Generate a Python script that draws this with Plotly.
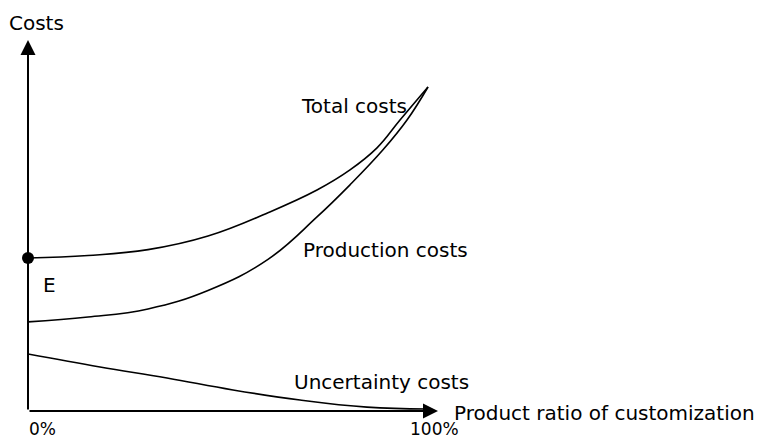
import plotly.graph_objects as go

# Data (x: product ratio of customization in %, y: cost units)
total_x = [0, 15, 30, 45, 60, 72.25, 80.5, 87.25, 93, 100]
total_y = [47.2, 48.0, 49.8, 54.0, 61.2, 68.2, 74.4, 81.2, 89.8, 100]

prod_x = [0, 15, 30, 45, 60, 72.25, 80.5, 88.75, 94.75, 100]
prod_y = [27.5, 29.0, 31.5, 37.2, 46.8, 59.9, 69.8, 80.6, 89.8, 100]

unc_x = [0, 18, 34.75, 51.25, 68, 84.75, 99.75]
unc_y = [17.6, 13.6, 10.2, 6.5, 3.4, 1.2, 0.6]

point_e = (0, 47.2)

labels = {
    "Costs": (2, 119.9),
    "Total costs": (81.5, 94.1),
    "Production costs": (89.25, 49.7),
    "Uncertainty costs": (88.25, 9.0),
    "Product ratio of customization": (144, -0.6),
    "E": (5.25, 39.0),
}
tick_labels = {"0%": (3.5, -5.6), "100%": (101.5, -5.6)}

X_MAX = 102.5
Y_MAX = 114.5

fig = go.Figure()
line_style = dict(color="black", width=1.6, shape="spline", smoothing=1.2)
fig.add_trace(go.Scatter(x=total_x, y=total_y, mode="lines", line=line_style, cliponaxis=False))
fig.add_trace(go.Scatter(x=prod_x, y=prod_y, mode="lines", line=line_style, cliponaxis=False))
fig.add_trace(go.Scatter(x=unc_x, y=unc_y, mode="lines", line=line_style, cliponaxis=False))
fig.add_trace(go.Scatter(x=[point_e[0]], y=[point_e[1]], mode="markers",
                         marker=dict(color="black", size=12), cliponaxis=False))

font = dict(family="DejaVu Sans", size=20, color="black")
ann = []
# axis arrows
ann.append(dict(x=0, y=Y_MAX, ax=0, ay=0, xref="x", yref="y", axref="x", ayref="y",
                text="", showarrow=True, arrowhead=2, arrowsize=1.5, arrowwidth=2,
                arrowcolor="black", standoff=0))
ann.append(dict(x=X_MAX, y=0, ax=0, ay=0, xref="x", yref="y", axref="x", ayref="y",
                text="", showarrow=True, arrowhead=2, arrowsize=1.5, arrowwidth=2,
                arrowcolor="black", standoff=0))
for t, (x, y) in labels.items():
    ann.append(dict(x=x / X_MAX, y=y / Y_MAX, xref="paper", yref="paper", text=t,
                    xanchor="center", yanchor="middle", showarrow=False, font=font))
for t, (x, y) in tick_labels.items():
    ann.append(dict(x=x / X_MAX, y=y / Y_MAX, xref="paper", yref="paper", text=t,
                    xanchor="center", yanchor="middle", showarrow=False,
                    font=dict(family="DejaVu Sans", size=17, color="black")))

fig.update_layout(
    width=769, height=439,
    margin=dict(l=20, r=339, t=32, b=36),
    plot_bgcolor="white", paper_bgcolor="white",
    showlegend=False,
    annotations=ann,
    xaxis=dict(range=[0, X_MAX], visible=False, fixedrange=True),
    yaxis=dict(range=[0, Y_MAX], visible=False, fixedrange=True),
)

fig.write_html("out.html")
